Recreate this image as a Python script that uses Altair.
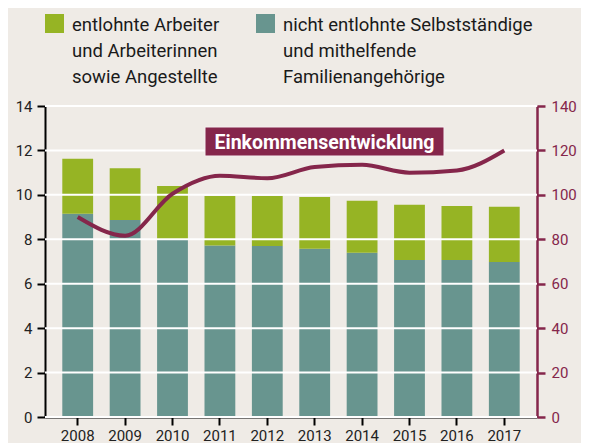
import altair as alt
import pandas as pd

years = ["2008", "2009", "2010", "2011", "2012", "2013", "2014", "2015", "2016", "2017"]
selbst = [9.15, 8.87, 8.0, 7.72, 7.7, 7.57, 7.39, 7.07, 7.07, 6.98]
total = [11.62, 11.2, 10.4, 9.95, 9.95, 9.9, 9.73, 9.55, 9.5, 9.46]
entlohnt = [round(t - s, 2) for t, s in zip(total, selbst)]
income = [90, 81.6, 100.5, 108.6, 107.5, 112.5, 113.5, 110, 111, 120]
grid_vals = [0, 2, 4, 6, 8, 10, 12, 14]
right_ticks = [0, 20, 40, 60, 80, 100, 120, 140]

cat_names = ["nicht entlohnte Selbstständige und mithelfende Familienangehörige",
             "entlohnte Arbeiter und Arbeiterinnen sowie Angestellte"]
legend_green = ["entlohnte Arbeiter", "und Arbeiterinnen", "sowie Angestellte"]
legend_teal = ["nicht entlohnte Selbstständige", "und mithelfende", "Familienangehörige"]
annotation = "Einkommensentwicklung"

GREEN = "#96b424"
TEAL = "#68958f"
MAROON = "#85264b"
BG = "#efebe6"
FONT = "Roboto"

rows = []
for y, s, e in zip(years, selbst, entlohnt):
    rows.append({"year": y, "cat": cat_names[0], "value": s, "ord": 0})
    rows.append({"year": y, "cat": cat_names[1], "value": e, "ord": 1})
df_bars = pd.DataFrame(rows)
df_line = pd.DataFrame({"year": years, "income": income})
df_grid = pd.DataFrame({"g": grid_vals})
one = pd.DataFrame({"a": [0]})

x_axis = alt.Axis(title=None, labelAngle=0, domainColor="black", domainWidth=2,
                  tickColor="black", tickWidth=2, tickSize=8, labelFont=FONT,
                  labelFontSize=15, labelColor="#222", labelPadding=3)
x_scale = alt.Scale(paddingInner=0.35, paddingOuter=0.365)

bars = alt.Chart(df_bars).mark_bar().encode(
    x=alt.X("year:N", scale=x_scale, axis=x_axis),
    y=alt.Y("value:Q", stack="zero",
            scale=alt.Scale(domain=[0, 14], nice=False),
            axis=alt.Axis(orient="left", title=None, values=grid_vals, grid=False,
                          domainColor="black", domainWidth=2, tickColor="black",
                          tickWidth=2, tickSize=8, labelFont=FONT, labelFontSize=15,
                          labelColor="#222", labelPadding=5)),
    color=alt.Color("cat:N", scale=alt.Scale(domain=cat_names, range=[TEAL, GREEN]), legend=None),
    order=alt.Order("ord:Q"),
)

grid = alt.Chart(df_grid).mark_rule(color="white", strokeWidth=2).encode(
    y=alt.Y("g:Q", scale=alt.Scale(domain=[0, 14], nice=False), axis=None)
)

line = alt.Chart(df_line).mark_line(color=MAROON, strokeWidth=4, interpolate="monotone").encode(
    x=alt.X("year:N", scale=x_scale, axis=x_axis),
    y=alt.Y("income:Q", scale=alt.Scale(domain=[0, 140], nice=False),
            axis=alt.Axis(orient="right", title=None, values=right_ticks, grid=False,
                          domainColor=MAROON, domainWidth=2.5, tickColor=MAROON,
                          tickWidth=2.5, tickSize=8, labelFont=FONT, labelFontSize=15,
                          labelColor=MAROON, labelPadding=6)),
)

ann_box = alt.Chart(one).mark_rect(fill=MAROON, stroke="#f4eef0", strokeWidth=1).encode(
    x=alt.value(160), x2=alt.value(399), y=alt.value(21), y2=alt.value(50)
)
ann_text = alt.Chart(one).mark_text(
    text=annotation, font="Roboto", fontWeight="bold", fontSize=19.5,
    color="white", align="center", baseline="alphabetic"
).encode(x=alt.value(279.5), y=alt.value(42.5))

sw_green = alt.Chart(one).mark_rect(fill=GREEN).encode(
    x=alt.value(0), x2=alt.value(19), y=alt.value(-92), y2=alt.value(-73))
sw_teal = alt.Chart(one).mark_rect(fill=TEAL).encode(
    x=alt.value(211), x2=alt.value(230), y=alt.value(-92), y2=alt.value(-73))
lt_green = alt.Chart(one).mark_text(
    text=legend_green, font=FONT, fontSize=18.5, color="#1a1a1a", align="left",
    baseline="alphabetic", lineHeight=26).encode(x=alt.value(27), y=alt.value(-75))
lt_teal = alt.Chart(one).mark_text(
    text=legend_teal, font=FONT, fontSize=18.5, color="#1a1a1a", align="left",
    baseline="alphabetic", lineHeight=26).encode(x=alt.value(238), y=alt.value(-75))

chart = alt.layer(
    bars, grid, line, ann_box, ann_text, sw_green, sw_teal, lt_green, lt_teal
).resolve_scale(y="independent").properties(
    width=492, height=311,
    padding={"left": 37, "top": 98, "right": 44, "bottom": 26},
    autosize=alt.AutoSizeParams(type="none"),
    background=BG,
).configure_view(stroke=None)

chart.save("out.html", embed_options={"renderer": "svg", "actions": False})
